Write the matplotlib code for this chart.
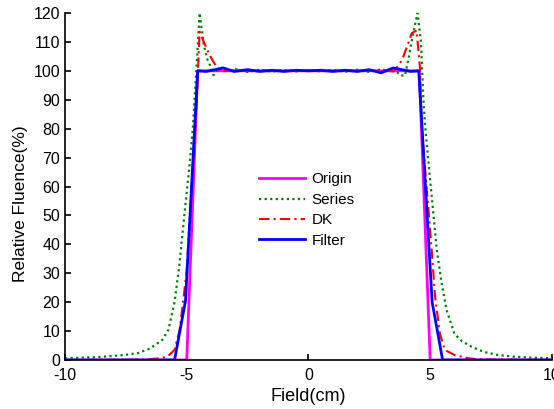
import matplotlib
matplotlib.use("Agg")
import matplotlib.pyplot as plt

plt.rcParams['font.family'] = ['Liberation Sans', 'DejaVu Sans']
plt.rcParams['axes.unicode_minus'] = False

# Origin
x_origin = [-10, -5.0, -4.55, 4.55, 5.0, 10]
y_origin = [0, 0, 100, 100, 0, 0]

# Series
x_series = [-10, -9, -8.5, -8, -7.5, -7, -6.5, -6, -5.75, -5.5, -5.3, -5.1, -4.9,
            -4.75, -4.6, -4.47, -4.3, -4.15, -4.0, -3.9, -3.75, -3.5, -3.25, -3.0,
            -2.5, -2.0, -1.5, -1.0, -0.5, 0, 0.5, 1.0, 1.5, 2.0, 2.5, 3.0, 3.25,
            3.5, 3.75, 3.96, 4.1, 4.3, 4.48, 4.62, 4.72, 4.79, 5.0, 5.27, 5.47,
            5.68, 6.0, 6.3, 6.7, 7.2, 7.8, 8.5, 9.2, 10]
y_series = [0.6, 0.9, 1.1, 1.4, 1.8, 2.4, 4.0, 7.0, 10.5, 20, 33, 50, 66,
            80, 101, 120, 109, 104, 101, 98.5, 100.5, 101.3, 100.0, 100.6,
            99.6, 100.4, 99.7, 100.3, 99.8, 100.2, 99.8, 100.3, 99.7, 100.4, 99.6, 100.6, 100.0,
            101.0, 98.5, 98.3, 103.8, 113, 120, 110, 90, 81, 62, 38, 26.6,
            17, 9, 6.5, 4.6, 2.8, 1.7, 1.1, 0.8, 0.6]

# DK
x_dk = [-10, -7, -6.5, -6.0, -5.75, -5.5, -5.3, -5.15, -5.0, -4.8, -4.6, -4.47,
        -4.3, -4.2, -4.0, -3.75, -3.5, -3.25, -3.0, -2.0, -1.0, 0, 1.0, 2.0,
        3.0, 3.5, 3.76, 3.9, 4.1, 4.24, 4.44, 4.58, 4.65, 4.85, 5.06, 5.2,
        5.4, 5.6, 6.0, 6.57, 7.0, 10]
y_dk = [0, 0.1, 0.3, 0.7, 1.5, 3.5, 10, 20, 31, 60, 88, 113.5,
        110, 108, 104.5, 101, 99.8, 100.2, 100, 100, 100, 100, 100, 100,
        100, 99.8, 102.6, 105, 109.6, 113, 114, 101, 81, 60, 38, 22,
        9, 3.5, 1.7, 0.6, 0.2, 0]

# Filter
x_filter = [-10, -5.5, -5.05, -4.55, -4.2, -3.9, -3.5, -3.05, -2.5, -2.0, -1.5,
            -1.0, -0.5, 0, 0.5, 1.0, 1.5, 2.0, 2.5, 2.98, 3.48, 3.9, 4.2, 4.53,
            5.08, 5.51, 10]
y_filter = [0, 0, 20.5, 100, 99.8, 100.3, 101, 99.8, 100.4, 99.8, 100.2,
            99.8, 100.2, 100, 100.2, 99.8, 100.2, 99.8, 100.4, 99.3, 101, 100.3, 99.8, 100,
            20, 0, 0]

fig = plt.figure(figsize=(5.54, 4.09), dpi=100)
ax = fig.add_axes([0.1173, 0.1198, 0.879, 0.8484])

ax.plot(x_origin, y_origin, color='#ff00ff', lw=2, label='Origin')
ax.plot(x_series, y_series, color='#008000', lw=1.6, ls=(0, (1, 1.5)), label='Series')
ax.plot(x_dk, y_dk, color='#ff0000', lw=1.5, ls=(0, (5, 2, 1, 2)), label='DK')
ax.plot(x_filter, y_filter, color='#0000ff', lw=2, label='Filter')

ax.set_xlim(-10, 10)
ax.set_ylim(0, 120)
ax.set_xticks([-10, -5, 0, 5, 10])
ax.set_yticks(range(0, 121, 10))
ax.tick_params(direction='in', labelsize=11.5, length=4, width=1.2)
ax.tick_params(axis='x', pad=6)
for s in ['top', 'right']:
    ax.spines[s].set_visible(False)
for s in ['left', 'bottom']:
    ax.spines[s].set_linewidth(1.2)

ax.set_xlabel('Field(cm)', fontsize=13, labelpad=3)
ax.set_ylabel('Relative Fluence(%)', fontsize=12.5)
ax.yaxis.set_label_coords(-0.075, 0.45)

ax.legend(loc='upper left', bbox_to_anchor=(0.37, 0.58), frameon=False,
          fontsize=11, handlelength=3.0, labelspacing=0.42, handletextpad=0.45)

fig.savefig('out.png', dpi=100)
